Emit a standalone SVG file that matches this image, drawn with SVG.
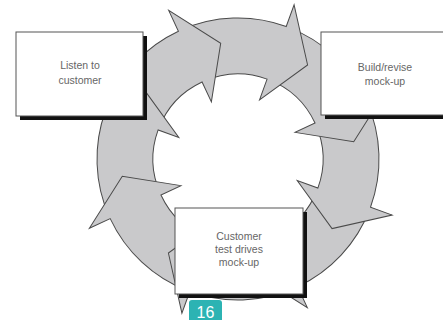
<svg xmlns="http://www.w3.org/2000/svg" width="443" height="320" viewBox="0 0 443 320">
<style>
.arrow{fill:#c9c9cb;stroke:#4a4a4a;stroke-width:1;stroke-linejoin:miter}
.box{fill:#fff;stroke:#555;stroke-width:1}
.shadow{fill:#111}
.label{font-family:"Liberation Sans",Arial,sans-serif;font-size:10.5px;fill:#666;text-anchor:middle}
.badge{fill:#2cb3b3}
.badgetext{font-family:"Liberation Sans",Arial,sans-serif;font-size:16px;fill:#fff;text-anchor:middle}
</style>
<defs>
<path id="arrow" d="M101.43,-97.95 A141,141 0 0 1 141,0 L164,0 L112.18,33.23 L63,0 L85,0 A85,85 0 0 0 61.14,-59.05 Z"/>
</defs>
<rect width="443" height="320" fill="#fff"/>
<g id="connectors">
<use href="#arrow" class="arrow" transform="translate(238 159) rotate(65)"/>
<use href="#arrow" class="arrow" transform="translate(238 159) rotate(20)"/>
<use href="#arrow" class="arrow" transform="translate(238 159) rotate(335)"/>
<use href="#arrow" class="arrow" transform="translate(238 159) rotate(290)"/>
<use href="#arrow" class="arrow" transform="translate(238 159) rotate(245)"/>
<use href="#arrow" class="arrow" transform="translate(238 159) rotate(200)"/>
<use href="#arrow" class="arrow" transform="translate(238 159) rotate(155)"/>
<use href="#arrow" class="arrow" transform="translate(238 159) rotate(110)"/>
</g>
<g id="listen">
<rect class="shadow" x="20" y="36" width="127" height="84"/>
<rect class="box" x="16" y="32" width="127" height="84"/>
<text class="label" x="80" y="69">Listen to</text>
<text class="label" x="80" y="84">customer</text>
</g>
<g id="build">
<rect class="shadow" x="325" y="36" width="130" height="83"/>
<rect class="box" x="321" y="32" width="130" height="83"/>
<text class="label" x="385" y="71">Build/revise</text>
<text class="label" x="385" y="85">mock-up</text>
</g>
<g id="testdrive">
<rect class="shadow" x="179" y="212" width="128" height="86"/>
<rect class="box" x="175" y="208" width="128" height="86"/>
<text class="label" x="239" y="240">Customer</text>
<text class="label" x="239" y="253">test drives</text>
<text class="label" x="239" y="266">mock-up</text>
</g>
<g id="page-badge">
<rect class="badge" x="189" y="300" width="33" height="26" rx="3"/>
<text class="badgetext" x="205.5" y="318">16</text>
</g>
</svg>
